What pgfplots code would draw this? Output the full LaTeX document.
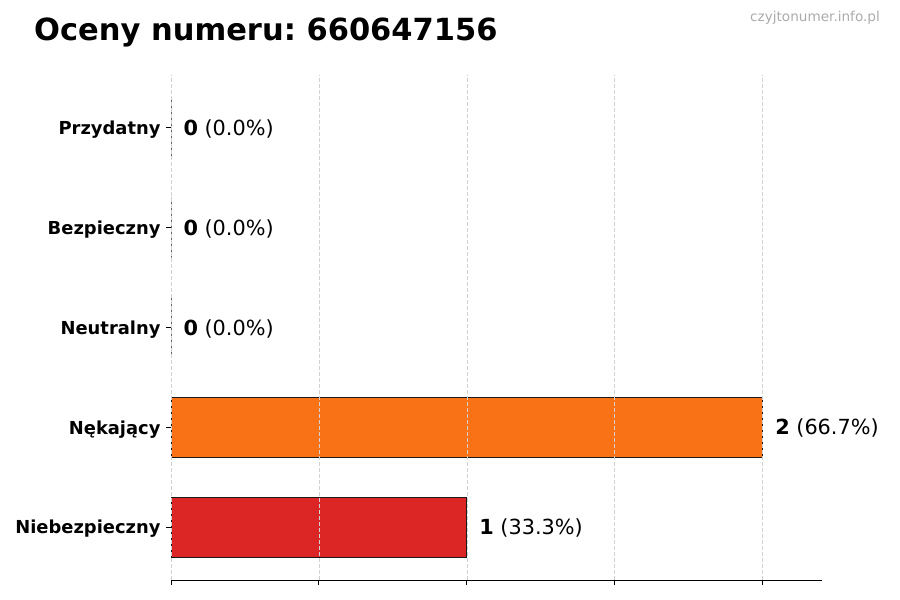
\documentclass[border=0pt]{standalone}
\usepackage{pgfplots}
\pgfplotsset{compat=1.18}
\usepackage{fontspec}
\setmainfont{DejaVu Sans}
\frenchspacing
\definecolor{barred}{HTML}{DC2626}
\definecolor{barorange}{HTML}{F97316}
\definecolor{edgegray}{HTML}{1A1A1A}

\begin{document}
\begin{tikzpicture}
\path[use as bounding box] (0,0) rectangle (900bp,600bp);
\node[anchor=base west, inner sep=0pt, font=\fontsize{30.5bp}{36bp}\selectfont\bfseries]
  at (34bp,559bp) {Oceny numeru: 660647156};
\node[anchor=base east, inner sep=0pt, text=black!33, font=\fontsize{13.6bp}{16bp}\selectfont]
  at (880bp,578bp) {czyjtonumer.info.pl};
\begin{axis}[
  at={(171bp,20bp)}, anchor=south west,
  scale only axis, width=651bp, height=505bp,
  xbar, bar width=60bp, bar shift=0pt,
  xmin=0, xmax=2.2, ymin=-0.53, ymax=4.53,
  xtick={0,0.5,1,1.5,2}, xticklabels={},
  ytick={0,1,2,3,4},
  yticklabels={Niebezpieczny,Nękający,Neutralny,Bezpieczny,Przydatny},
  yticklabel style={font=\fontsize{17.9bp}{21bp}\selectfont\bfseries, xshift=-2bp, yshift=-2bp},
  axis x line*=bottom, axis y line*=left,
  y axis line style={draw=none},
  x axis line style={line width=1bp},
  tick align=outside, major tick length=5bp,
  tick style={line width=1bp, black},
  xmajorgrids, grid style={dash pattern=on 4bp off 2bp, black!18, line width=0.8bp},
  axis on top,
  nodes near coords, point meta=explicit symbolic,
  every node near coord/.append style={anchor=west, inner sep=0pt, xshift=12bp, yshift=-1bp,
    font=\fontsize{20.8bp}{25bp}\selectfont, text=black},
]
\addplot[fill=barred, draw=edgegray, line width=1bp] coordinates {(1,0) [\textbf{1} (33.3\%)]};
\addplot[fill=barorange, draw=edgegray, line width=1bp] coordinates {(2,1) [\textbf{2} (66.7\%)]};
\addplot[fill=barorange, draw=edgegray, line width=1bp] coordinates {(0,2) [\textbf{0} (0.0\%)]};
\addplot[fill=barorange, draw=edgegray, line width=1bp] coordinates {(0,3) [\textbf{0} (0.0\%)]};
\addplot[fill=barorange, draw=edgegray, line width=1bp] coordinates {(0,4) [\textbf{0} (0.0\%)]};
\end{axis}
\end{tikzpicture}
\end{document}
